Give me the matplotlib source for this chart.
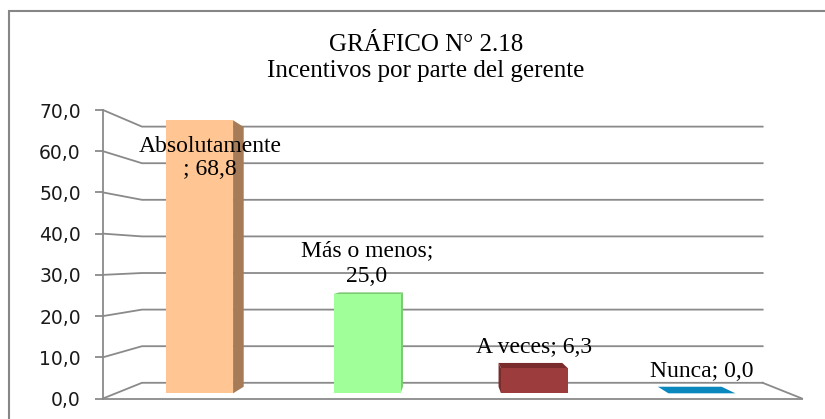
import matplotlib
matplotlib.use('Agg')
import matplotlib.pyplot as plt
from matplotlib.patches import Polygon, Rectangle

# data
categories = ['Absolutamente', 'Más o menos', 'A veces', 'Nunca']
values = [68.8, 25.0, 6.3, 0.0]
bar_labels = ['Absolutamente\n; 68,8', 'Más o menos;\n25,0', 'A veces; 6,3', 'Nunca; 0,0']
front_colors = ['#FFC592', '#A0FF98', '#9C3C3C', '#0A88BE']
side_colors = ['#A67C58', '#7CCB74', '#7A2B2B', '#0A88BE']
yticks = [0, 10, 20, 30, 40, 50, 60, 70]

title = 'GRÁFICO N° 2.18\nIncentivos por parte del gerente'

# fake 3d: everything shrinks toward a vanishing point
XMIN, XMAX = -0.5, 3.52
VPX, VPY = 1.5, 34.0
K_BACK = 0.888    # back wall
K_FRONT = 0.963   # front face of the bars
K_REAR = 0.916    # back face of the bars
HALF_W = 0.2
GRID = '#8a8a8a'


def proj(x, y, k):
    return VPX + k * (x - VPX), VPY + k * (y - VPY)


fig = plt.figure(figsize=(8.25, 4.19), dpi=100)
ax = fig.add_axes([103 / 825, 20.5 / 419, 699 / 825, 288.5 / 419])
ax.set_xlim(XMIN, XMAX)
ax.set_ylim(0, 70)

# walls / floor
for v in yticks:
    bx0, by = proj(XMIN, v, K_BACK)
    bx1, _ = proj(XMAX, v, K_BACK)
    ax.plot([XMIN, bx0, bx1], [v, by, by], color=GRID, lw=1.3, clip_on=False, zorder=1)
bx1, by0 = proj(XMAX, 0, K_BACK)
ax.plot([bx1, XMAX], [by0, 0], color=GRID, lw=1.3, clip_on=False, zorder=1)

# bars
for i, (v, fc, sc) in enumerate(zip(values, front_colors, side_colors)):
    xl, xr = i - HALF_W, i + HALF_W
    # side face toward the vanishing point
    xs = xr if xr < VPX else xl
    side = [proj(xs, 0, K_FRONT), proj(xs, v, K_FRONT), proj(xs, v, K_REAR), proj(xs, 0, K_REAR)]
    ax.add_patch(Polygon(side, closed=True, facecolor=sc, edgecolor='none', zorder=2))
    # top face when below eye level
    if v < VPY:
        top = [proj(xl, v, K_FRONT), proj(xr, v, K_FRONT), proj(xr, v, K_REAR), proj(xl, v, K_REAR)]
        top_col = sc if v > 0 else fc
        ax.add_patch(Polygon(top, closed=True, facecolor=top_col, edgecolor='none', zorder=2))

xc = [proj(i, 0, K_FRONT)[0] for i in range(len(values))]
y0 = [proj(i, 0, K_FRONT)[1] for i in range(len(values))]
y1 = [proj(i, v, K_FRONT)[1] for i, v in enumerate(values)]
ax.bar(xc, [b - a for a, b in zip(y0, y1)], bottom=y0, width=2 * HALF_W * K_FRONT,
       color=front_colors, edgecolor='none', zorder=3)

# data labels
for i, v in enumerate(values):
    top_y = proj(i, v, K_REAR)[1]
    if v > 60:
        ax.text(xc[i] + 0.06, 63.8, bar_labels[i], ha='center', va='top',
                fontsize=17, family='Liberation Serif', linespacing=1.15, zorder=5)
    else:
        ax.text(xc[i], top_y + 1.2, bar_labels[i], ha='center', va='bottom',
                fontsize=17, family='Liberation Serif', linespacing=1.3, zorder=5)

# axes styling
for s in ['top', 'right']:
    ax.spines[s].set_visible(False)
ax.spines['left'].set_color(GRID)
ax.spines['bottom'].set_color(GRID)
ax.spines['left'].set_linewidth(1.3)
ax.spines['bottom'].set_linewidth(1.3)
ax.set_xticks([])
ax.set_yticks(yticks)
ax.set_yticklabels([f'{t:.1f}'.replace('.', ',') for t in yticks])
ax.tick_params(axis='y', length=6, width=1.3, color=GRID, pad=10, labelsize=13.5,
               labelcolor='#1a1a1a')
ax.patch.set_visible(False)

fig.text(0.516, 0.92, title, ha='center', va='top', fontsize=18,
         family='Liberation Serif', linespacing=1.25)

# outer frame
fig.add_artist(Rectangle((9 / 825, -0.2), 1.2, 1.2 - 11 / 419, transform=fig.transFigure,
                         fill=False, edgecolor='#868686', lw=1.5))

fig.savefig('out.png', dpi=100)
